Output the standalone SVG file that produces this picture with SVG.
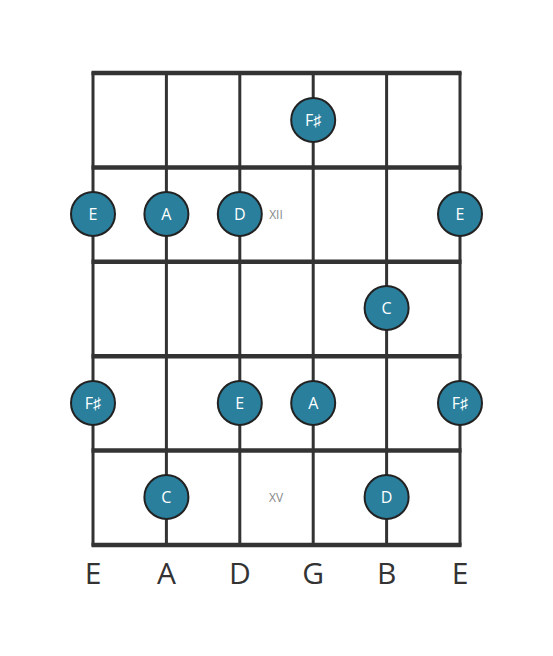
<svg xmlns="http://www.w3.org/2000/svg" width="553" height="656" viewBox="0 0 553 656">
<style>
.str{stroke:#333;stroke-width:3;fill:none}
.fret{stroke:#333;stroke-width:4.5;fill:none}
.note circle{fill:#2a7f9d;stroke:#222;stroke-width:2}
.note text{fill:#fff;font-family:"Open Sans",sans-serif;font-size:16px;text-anchor:middle;dominant-baseline:central}
.fn{fill:#888;font-family:"Open Sans",sans-serif;font-size:12px;text-anchor:middle;dominant-baseline:central}
.sn{fill:#333;font-family:"Open Sans",sans-serif;font-size:30px;text-anchor:middle}
</style>
<rect width="553" height="656" fill="#fff"/>
<g id="connectors">
<line class="str" x1="93" y1="72" x2="93" y2="546"/>
<line class="str" x1="166.4" y1="72" x2="166.4" y2="546"/>
<line class="str" x1="239.8" y1="72" x2="239.8" y2="546"/>
<line class="str" x1="313.2" y1="72" x2="313.2" y2="546"/>
<line class="str" x1="386.6" y1="72" x2="386.6" y2="546"/>
<line class="str" x1="460" y1="72" x2="460" y2="546"/>
<line class="fret" x1="91.5" y1="73" x2="461.5" y2="73"/>
<line class="fret" x1="91.5" y1="167.4" x2="461.5" y2="167.4"/>
<line class="fret" x1="91.5" y1="261.8" x2="461.5" y2="261.8"/>
<line class="fret" x1="91.5" y1="356.2" x2="461.5" y2="356.2"/>
<line class="fret" x1="91.5" y1="450.6" x2="461.5" y2="450.6"/>
<line class="fret" x1="91.5" y1="545" x2="461.5" y2="545"/>
</g>
<g id="n1" class="note"><circle cx="313.2" cy="120" r="22"/><text x="313.2" y="120">F♯</text></g>
<g id="n2" class="note"><circle cx="93" cy="214" r="22"/><text x="93" y="214">E</text></g>
<g id="n3" class="note"><circle cx="166.4" cy="214" r="22"/><text x="166.4" y="214">A</text></g>
<g id="n4" class="note"><circle cx="239.8" cy="214" r="22"/><text x="239.8" y="214">D</text></g>
<g id="n5" class="note"><circle cx="460" cy="214" r="22"/><text x="460" y="214">E</text></g>
<g id="n6" class="note"><circle cx="386.6" cy="308" r="22"/><text x="386.6" y="308">C</text></g>
<g id="n7" class="note"><circle cx="93" cy="403" r="22"/><text x="93" y="403">F♯</text></g>
<g id="n8" class="note"><circle cx="239.8" cy="403" r="22"/><text x="239.8" y="403">E</text></g>
<g id="n9" class="note"><circle cx="313.2" cy="403" r="22"/><text x="313.2" y="403">A</text></g>
<g id="n10" class="note"><circle cx="460" cy="403" r="22"/><text x="460" y="403">F♯</text></g>
<g id="n11" class="note"><circle cx="166.4" cy="497" r="22"/><text x="166.4" y="497">C</text></g>
<g id="n12" class="note"><circle cx="386.6" cy="497" r="22"/><text x="386.6" y="497">D</text></g>
<g id="fretnums">
<text class="fn" x="276" y="214">XII</text>
<text class="fn" x="276" y="497">XV</text>
</g>
<g id="strings">
<text class="sn" x="93" y="584">E</text>
<text class="sn" x="166.4" y="584">A</text>
<text class="sn" x="239.8" y="584">D</text>
<text class="sn" x="313.2" y="584">G</text>
<text class="sn" x="386.6" y="584">B</text>
<text class="sn" x="460" y="584">E</text>
</g>
</svg>
